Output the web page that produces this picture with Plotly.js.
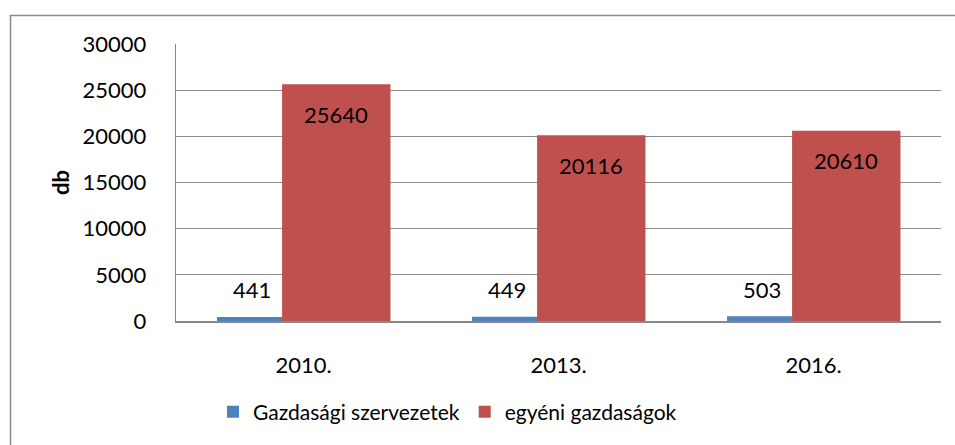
<!DOCTYPE html>
<html>
<head>
<meta charset="utf-8">
<script src="https://cdn.plot.ly/plotly-3.0.1.min.js"></script>
<style>
html,body{margin:0;padding:0;background:#fff;}
#chart{width:955px;height:445px;}
</style>
</head>
<body>
<div id="chart"></div>
<script>
const categories = ["2010.", "2013.", "2016."];
const gazdasagiSzervezetek = [441, 449, 503];
const egyeniGazdasagok = [25640, 20116, 20610];
const seriesNames = ["Gazdasági szervezetek", "egyéni gazdaságok"];
const yTicks = [0, 5000, 10000, 15000, 20000, 25000, 30000];

const FONT = "Lato, 'Open Sans', sans-serif";
const idx = categories.map((c, i) => i);

const blueOffset = -0.339, blueWidth = 0.275;
const redOffset = -0.084, redWidth = 0.425;

const traces = [
  {
    type: "bar", name: seriesNames[0], x: idx, y: gazdasagiSzervezetek,
    offset: blueOffset, width: blueWidth,
    marker: {color: "#4F81BD"}, hoverinfo: "skip"
  },
  {
    type: "bar", name: seriesNames[1], x: idx, y: egyeniGazdasagok,
    offset: redOffset, width: redWidth,
    marker: {color: "#C0504D"}, hoverinfo: "skip"
  }
];

const annotations = [];
idx.forEach(i => {
  annotations.push({
    x: i - 0.202, y: gazdasagiSzervezetek[i], xref: "x", yref: "y",
    text: String(gazdasagiSzervezetek[i]), showarrow: false,
    yanchor: "middle", yshift: 27,
    font: {family: FONT, size: 22, color: "#000"}
  });
  annotations.push({
    x: i + redOffset + redWidth / 2, y: egyeniGazdasagok[i], xref: "x", yref: "y",
    text: String(egyeniGazdasagok[i]), showarrow: false,
    yanchor: "middle", yshift: -30,
    font: {family: FONT, size: 22, color: "#000"}
  });
});

const L = 176, R = 14, T = 44, B = 124;
const pw = 955 - L - R, ph = 445 - T - B;

const layout = {
  width: 955, height: 445,
  margin: {l: L, r: R, t: T, b: B, pad: 0},
  paper_bgcolor: "#fff", plot_bgcolor: "#fff",
  barmode: "overlay",
  showlegend: true,
  font: {family: FONT, size: 22, color: "#000"},
  xaxis: {
    range: [-0.5, 2.5],
    tickmode: "array", tickvals: idx, ticktext: categories,
    showgrid: false, zeroline: false,
    showline: true, linecolor: "#888", linewidth: 1.5,
    ticks: "", ticklabelstandoff: 24,
    tickfont: {family: FONT, size: 22, color: "#000"},
    fixedrange: true
  },
  yaxis: {
    range: [0, 30000],
    tickmode: "array", tickvals: yTicks, ticktext: yTicks.map(String),
    showgrid: true, gridcolor: "#8c8c8c", gridwidth: 1.3,
    zeroline: false,
    showline: true, linecolor: "#888", linewidth: 1.3,
    ticks: "", ticklabelstandoff: 24,
    tickfont: {family: FONT, size: 22, color: "#000"},
    title: {text: "<b>db</b>", standoff: 6, font: {family: FONT, size: 22, color: "#000"}},
    fixedrange: true
  },
  legend: {
    orientation: "h", x: (213 - L) / pw, xanchor: "left", y: (445 - B - 412) / ph, yanchor: "middle",
    bgcolor: "rgba(0,0,0,0)",
    font: {family: FONT, size: 21, color: "#000"},
    traceorder: "normal"
  },
  annotations: annotations,
  shapes: [{
    type: "rect", xref: "paper", yref: "paper",
    x0: (10.5 - L) / pw, x1: (990 - L) / pw,
    y0: (445 - B - 480) / ph, y1: (445 - B - 15.5) / ph,
    line: {color: "#8a8a8a", width: 1.5}, fillcolor: "rgba(0,0,0,0)", layer: "below"
  }]
};

Plotly.newPlot("chart", traces, layout, {displayModeBar: false, staticPlot: true});
</script>
</body>
</html>
